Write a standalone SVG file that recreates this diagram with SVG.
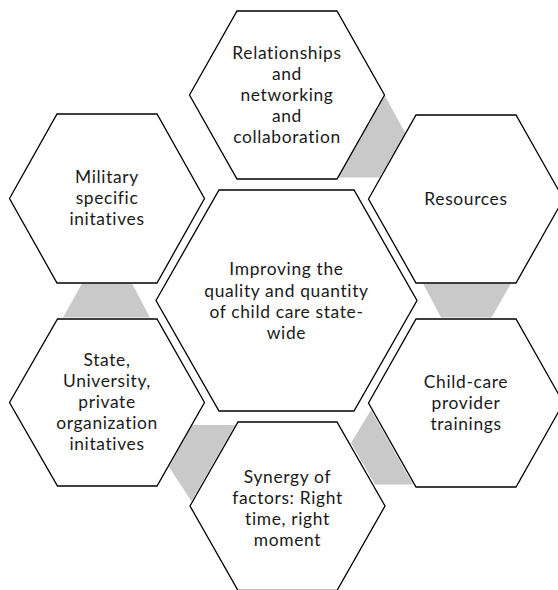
<svg xmlns="http://www.w3.org/2000/svg" width="558" height="590" viewBox="0 0 558 590">
<style>
.hex{fill:#ffffff;stroke:#000000;stroke-width:1.3;stroke-linejoin:miter}
.band{fill:#c9c9c9;stroke:none}
text{font-family:Lato,"Noto Sans",sans-serif;font-size:17.4px;letter-spacing:0.65px;fill:#1a1a1a;text-anchor:middle}
</style>
<rect width="558" height="590" fill="#ffffff"/>
<g id="connectors">
<polygon class="band" points="384.5,95 405.5,133.5 379.5,177.5 337.5,177.5"/>
<polygon class="band" points="423,283.5 511,283.5 491.5,317.5 441,317.5"/>
<polygon class="band" points="82,283.5 132,283.5 150,317.5 63,317.5"/>
<polygon class="band" points="192,425 235,425 191.5,501.5 169,467"/>
<polygon class="band" points="371,410 413,484.5 375,484.5 351,443"/>
</g>
<g id="center">
<polygon class="hex" points="156,300.5 219,190 354,190 417,300.5 354,411 219,411"/>
<text x="286.5" y="275"><tspan x="286.5" y="275">Improving the</tspan><tspan x="286.5" y="296.5">quality and quantity</tspan><tspan x="286.5" y="318">of child care state-</tspan><tspan x="286.5" y="339">wide</tspan></text>
</g>
<g id="relationships">
<polygon class="hex" points="189.5,95 237,11 337,11 384.5,95 337,179 237,179"/>
<text x="287" y="58.5"><tspan x="287" y="58.5">Relationships</tspan><tspan x="287" y="79.5">and</tspan><tspan x="287" y="100.5">networking</tspan><tspan x="287" y="121.5">and</tspan><tspan x="287" y="142.5">collaboration</tspan></text>
</g>
<g id="resources">
<polygon class="hex" points="368.5,199 416,115 516,115 563.5,199 516,283 416,283"/>
<text x="466" y="205">Resources</text>
</g>
<g id="childcare">
<polygon class="hex" points="368.5,403 416,319 516,319 563.5,403 516,487 416,487"/>
<text x="466" y="387.5"><tspan x="466" y="387.5">Child-care</tspan><tspan x="466" y="408.5">provider</tspan><tspan x="466" y="429.5">trainings</tspan></text>
</g>
<g id="synergy">
<polygon class="hex" points="190,506 238,422 337,422 385,506 337,590.5 238,590.5"/>
<text x="287.5" y="482.5"><tspan x="287.5" y="482.5">Synergy of</tspan><tspan x="287.5" y="503.5">factors: Right</tspan><tspan x="287.5" y="524.5">time, right</tspan><tspan x="287.5" y="545.5">moment</tspan></text>
</g>
<g id="state">
<polygon class="hex" points="9.5,402.5 57.5,319 157,319 204.5,402.5 157,486 57.5,486"/>
<text x="107" y="366"><tspan x="107" y="366">State,</tspan><tspan x="107" y="387">University,</tspan><tspan x="107" y="408">private</tspan><tspan x="107" y="429">organization</tspan><tspan x="107" y="450">initatives</tspan></text>
</g>
<g id="military">
<polygon class="hex" points="9.5,198.5 57,114 157,114 204.5,198.5 157,283 57,283"/>
<text x="107" y="183"><tspan x="107" y="183">Military</tspan><tspan x="107" y="204">specific</tspan><tspan x="107" y="225">initatives</tspan></text>
</g>
</svg>
